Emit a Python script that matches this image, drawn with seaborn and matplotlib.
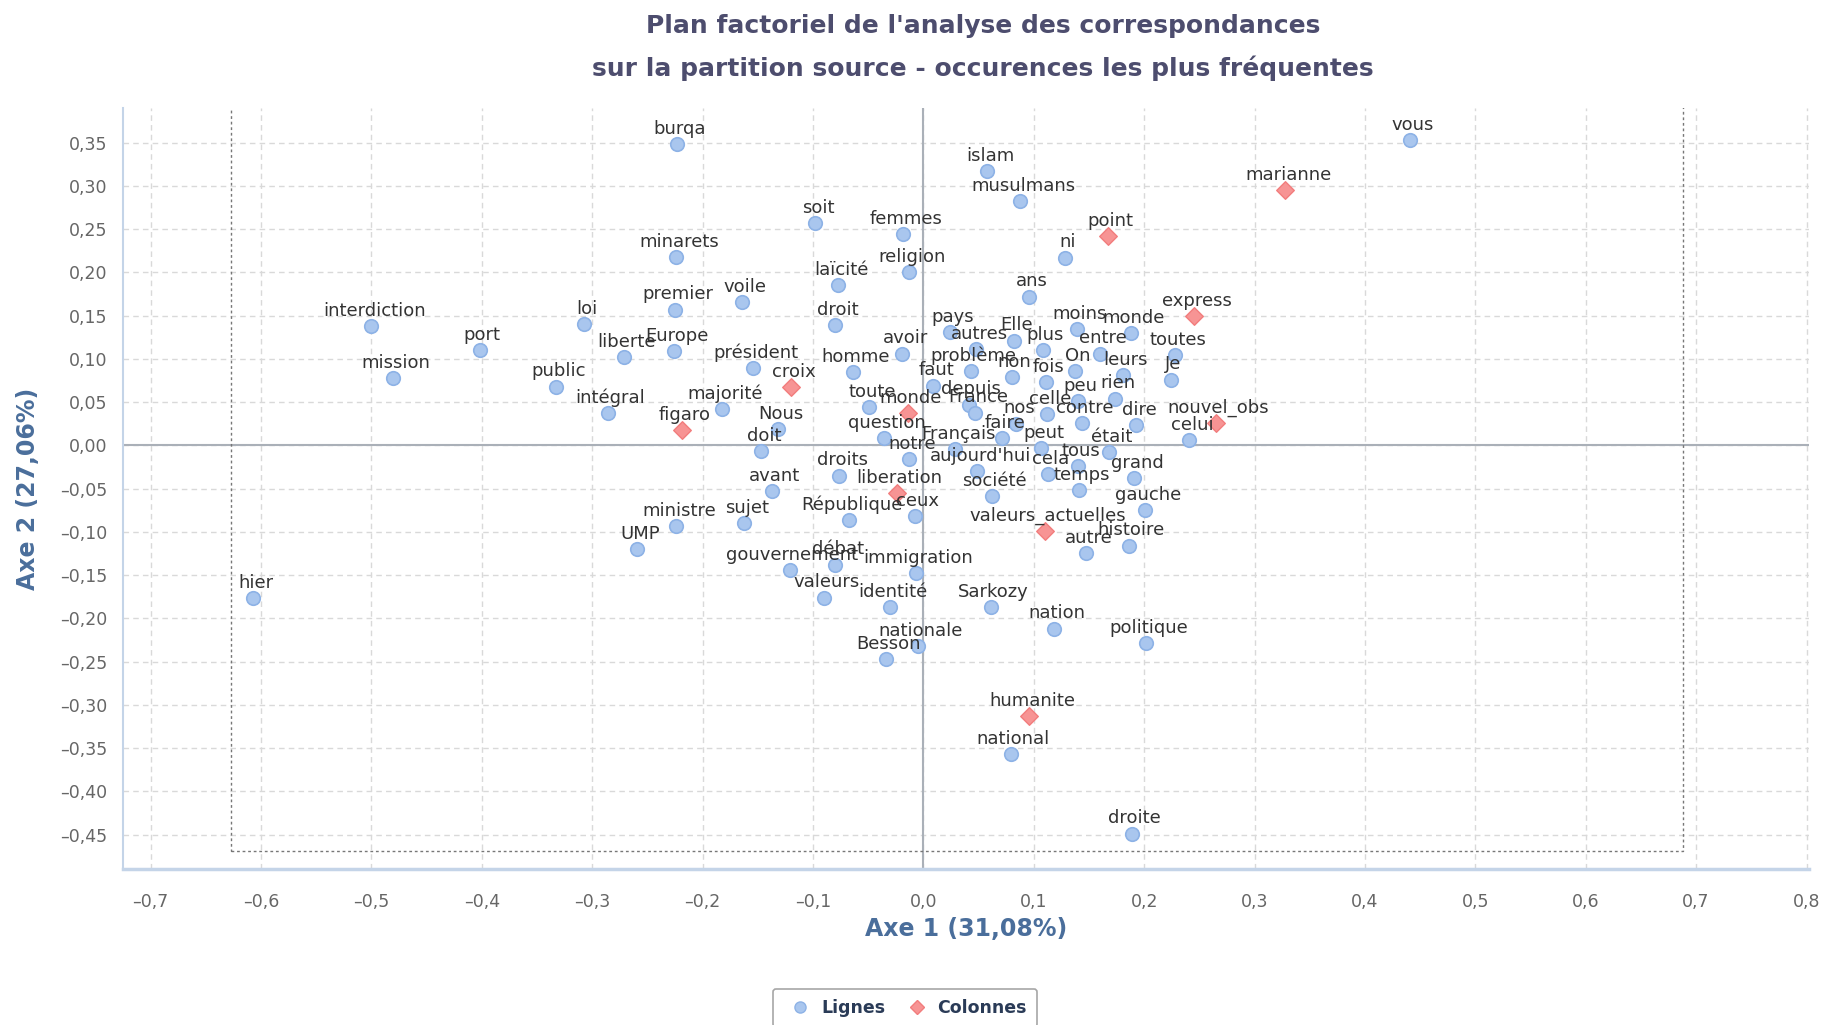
import pandas as pd
import seaborn as sns
import matplotlib.pyplot as plt
from matplotlib.ticker import FuncFormatter, MultipleLocator
from matplotlib.patches import Rectangle
from matplotlib.lines import Line2D

# points "Lignes" (mots)
ligne_noms = ['burqa', 'vous', 'islam', 'musulmans', 'soit', 'femmes', 'minarets', 'ni',
              'religion', 'laïcité', 'voile', 'premier', 'ans', 'interdiction', 'loi', 'droit',
              'pays', 'moins', 'monde', 'Elle', 'port', 'Europe', 'autres', 'plus', 'entre',
              'toutes', 'liberte', 'avoir', 'président', 'homme', 'mission', 'public', 'problème',
              'faut', 'non', 'On', 'fois', 'leurs', 'Je', 'peu', 'rien', 'depuis', 'France',
              'intégral', 'majorité', 'toute', 'celle', 'nos', 'contre', 'dire', 'Nous',
              'question', 'faire', 'Français', 'peut', 'celui', 'doit', 'était', 'notre', 'tous',
              "aujourd'hui", 'cela', 'droits', 'grand', 'avant', 'temps', 'société', 'gauche',
              'ceux', 'République', 'sujet', 'ministre', 'histoire', 'UMP', 'autre', 'débat',
              'gouvernement', 'immigration', 'valeurs', 'hier', 'identité', 'Sarkozy', 'nation',
              'politique', 'nationale', 'Besson', 'national', 'droite']
ligne_x = [-0.223, 0.441, 0.058, 0.088, -0.098, -0.018, -0.224, 0.128,
           -0.013, -0.077, -0.164, -0.225, 0.096, -0.500, -0.307, -0.080,
           0.024, 0.139, 0.188, 0.082, -0.402, -0.226, 0.048, 0.108, 0.160,
           0.228, -0.271, -0.019, -0.154, -0.064, -0.480, -0.333, 0.043,
           0.009, 0.080, 0.137, 0.111, 0.181, 0.224, 0.140, 0.174, 0.041, 0.047,
           -0.286, -0.182, -0.049, 0.112, 0.084, 0.144, 0.193, -0.132,
           -0.036, 0.071, 0.029, 0.107, 0.241, -0.147, 0.168, -0.013, 0.140,
           0.049, 0.113, -0.076, 0.191, -0.137, 0.141, 0.062, 0.201,
           -0.008, -0.067, -0.162, -0.224, 0.186, -0.259, 0.147, -0.080,
           -0.121, -0.007, -0.090, -0.607, -0.030, 0.061, 0.118,
           0.202, -0.005, -0.034, 0.079, 0.189]
ligne_y = [0.348, 0.353, 0.317, 0.282, 0.257, 0.244, 0.218, 0.217,
           0.200, 0.185, 0.166, 0.157, 0.172, 0.138, 0.140, 0.139,
           0.131, 0.1345, 0.130, 0.121, 0.110, 0.109, 0.111, 0.110, 0.106,
           0.104, 0.102, 0.106, 0.089, 0.085, 0.078, 0.068, 0.086,
           0.069, 0.079, 0.086, 0.073, 0.081, 0.076, 0.051, 0.054, 0.047, 0.038,
           0.037, 0.042, 0.044, 0.036, 0.025, 0.026, 0.023, 0.019,
           0.008, 0.008, -0.004, -0.003, 0.006, -0.007, -0.008, -0.016, -0.024,
           -0.030, -0.033, -0.035, -0.038, -0.053, -0.052, -0.059, -0.075,
           -0.082, -0.086, -0.090, -0.093, -0.116, -0.120, -0.125, -0.138,
           -0.144, -0.148, -0.176, -0.177, -0.187, -0.187, -0.212,
           -0.229, -0.232, -0.247, -0.357, -0.449]

# points "Colonnes" (sources)
colonne_noms = ['marianne', 'point', 'express', 'croix', 'figaro', 'monde', 'nouvel_obs',
                'liberation', 'valeurs_actuelles', 'humanite']
colonne_x = [0.328, 0.167, 0.245, -0.120, -0.219, -0.014, 0.265, -0.024, 0.110, 0.096]
colonne_y = [0.295, 0.242, 0.149, 0.067, 0.018, 0.037, 0.026, -0.055, -0.099, -0.313]

lignes = pd.DataFrame({'nom': ligne_noms, 'x': ligne_x, 'y': ligne_y})
colonnes = pd.DataFrame({'nom': colonne_noms, 'x': colonne_x, 'y': colonne_y})

bleu, bleu_bord = '#a9c6ee', '#8db2e6'
rouge, rouge_bord = '#f79494', '#f27d7d'

sns.set_style('white')
plt.rcParams['font.family'] = ['DejaVu Sans']

fig = plt.figure(figsize=(18.27, 10.25), dpi=100)
ax = fig.add_axes([0.0673, 0.152, 0.9227, 0.7426])

ax.set_xlim(-0.725, 0.802)
ax.set_ylim(-0.49, 0.39)
ax.xaxis.set_major_locator(MultipleLocator(0.1))
ax.yaxis.set_major_locator(MultipleLocator(0.05))
ax.grid(True, ls=(0, (4, 3)), color='#d9d9d9', lw=1, zorder=0)
ax.set_axisbelow(True)
ax.axhline(0, color='#aab0b8', lw=1.5, zorder=1)
ax.axvline(0, color='#aab0b8', lw=1.5, zorder=1)

# cadre pointillé
ax.add_patch(Rectangle((-0.627, -0.4685), 0.688 + 0.627, 1.0, fill=False,
                       edgecolor='#777777', ls=(0, (2, 2)), lw=1, zorder=1))

sns.scatterplot(data=lignes, x='x', y='y', color=bleu, edgecolor=bleu_bord, linewidth=1.2,
                s=95, marker='o', ax=ax, zorder=3, legend=False)
sns.scatterplot(data=colonnes, x='x', y='y', color=rouge, edgecolor=rouge_bord, linewidth=1,
                s=80, marker='D', ax=ax, zorder=3, legend=False)

for df in (lignes, colonnes):
    for _, r in df.iterrows():
        ax.annotate(r['nom'], (r['x'], r['y']), xytext=(2, 11), textcoords='offset points',
                    ha='center', va='center', fontsize=13, color='#333333', zorder=4)


def fmt(dec):
    def f(v, _):
        if abs(v) < 1e-9:
            v = 0.0
        return f"{v:.{dec}f}".replace('.', ',').replace('-', '–')
    return FuncFormatter(f)


ax.xaxis.set_major_formatter(fmt(1))
ax.yaxis.set_major_formatter(fmt(2))

for s in ('top', 'right'):
    ax.spines[s].set_visible(False)
ax.spines['left'].set_color('#c4d4e8')
ax.spines['left'].set_linewidth(1.5)
ax.spines['bottom'].set_color('#c4d4e8')
ax.spines['bottom'].set_linewidth(2.5)
ax.tick_params(axis='x', length=9, width=1, color='#c4d4e8', labelsize=12.5,
               labelcolor='#666666', pad=8)
ax.tick_params(axis='y', length=7, width=1, color='#d6d6d6', labelsize=12.5,
               labelcolor='#666666', pad=4)

ax.set_xlabel('Axe 1 (31,08%)', fontsize=17, fontweight='bold', color='#4a6e9b', va='center')
ax.set_ylabel('Axe 2 (27,06%)', fontsize=17, fontweight='bold', color='#4a6e9b',
              va='center', ha='center')
ax.xaxis.set_label_coords(0.5, -0.079)
ax.yaxis.set_label_coords(-0.0565, 0.5)

fig.text(0.538, 0.9746, "Plan factoriel de l'analyse des correspondances", ha='center',
         va='center', fontsize=18, fontweight='bold', color='#4d4d6e')
fig.text(0.538, 0.9337, "sur la partition source - occurences les plus fréquentes", ha='center',
         va='center', fontsize=18, fontweight='bold', color='#4d4d6e')

handles = [Line2D([], [], ls='', marker='o', markersize=8, markerfacecolor=bleu,
                  markeredgecolor=bleu_bord),
           Line2D([], [], ls='', marker='D', markersize=7, markerfacecolor=rouge,
                  markeredgecolor=rouge_bord)]
leg = fig.legend(handles, ['Lignes', 'Colonnes'], loc='upper center',
                 bbox_to_anchor=(0.4953, 0.0351), borderaxespad=0, ncol=2, frameon=True,
                 fancybox=True, edgecolor='#909090', prop={'weight': 'bold', 'size': 12.5},
                 labelcolor='#2a3b57', handletextpad=0.2, columnspacing=0.8, borderpad=0.6)
leg.get_frame().set_linewidth(1.2)

fig.savefig('out.png', dpi=100)
